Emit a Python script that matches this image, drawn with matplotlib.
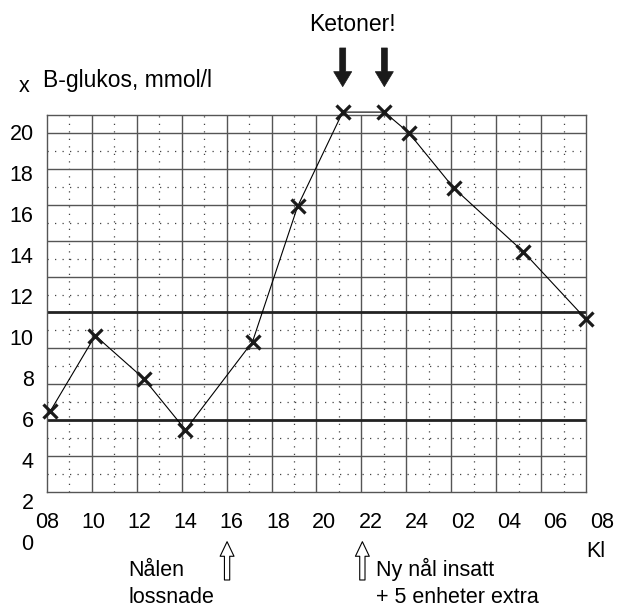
import matplotlib
matplotlib.use("Agg")
import matplotlib.pyplot as plt
import matplotlib.transforms as mtransforms

# readings: clock time in hours (night hours counted past 24) and B-glukos in mmol/l
times = [8.15, 10.1, 12.2, 14.0, 16.9, 18.85, 20.8, 22.6, 23.65, 25.6, 28.6, 31.32]
glucose = [6.5, 10.2, 8.1, 5.6, 9.9, 16.5, 21.1, 21.1, 20.1, 17.4, 14.3, 11.0]

hour_ticks = list(range(8, 33, 2))
hour_labels = ["08", "10", "12", "14", "16", "18", "20", "22", "24", "02", "04", "06", "08"]
glucose_ticks = list(range(0, 21, 2))

ketone_times = [20.8, 22.6]
needle_loose = 15.8
needle_new = 21.65

plt.rcParams["font.family"] = ["Liberation Sans", "DejaVu Sans"]
FS = 15.5

fig = plt.figure(figsize=(6.19, 6.08), dpi=100)
ax = fig.add_axes([0.0759, 0.1908, 0.8708, 0.6201])
ax.set_xlim(8.013, 31.32)
ax.set_ylim(2.57, 20.96)
ax.set_xticks([])
ax.set_yticks([])
for sp in ax.spines.values():
    sp.set_color("#555555")
    sp.set_linewidth(1.0)

# graph paper: 12 columns / 10.5 rows, dotted half lines
for k in range(1, 24):
    f = k / 24
    if k % 2 == 0:
        ax.plot([f, f], [0, 1], transform=ax.transAxes, color="#555555", lw=1.0, zorder=1)
    else:
        ax.plot([f, f], [0, 1], transform=ax.transAxes, color="#444444", lw=0.9,
                ls=(0, (1, 5)), zorder=1)
for k in range(1, 21):
    f = k / 21
    if k in (4, 10):
        ax.plot([0, 1], [f, f], transform=ax.transAxes, color="#222222", lw=2.0, zorder=2)
    elif k % 2 == 0:
        ax.plot([0, 1], [f, f], transform=ax.transAxes, color="#555555", lw=1.0, zorder=1)
    else:
        ax.plot([0, 1], [f, f], transform=ax.transAxes, color="#444444", lw=0.9,
                ls=(0, (1, 5)), zorder=1)

# glucose curve
ax.plot(times, glucose, color="black", lw=0.8, zorder=3, clip_on=False)
ax.plot(times, glucose, ls="none", marker="x", ms=9.5, mew=2.3, color="#1a1a1a",
        zorder=4, clip_on=False)

# tick labels drawn as text (some lie outside the frame)
xtrans = mtransforms.blended_transform_factory(ax.transData, ax.transAxes)
for h, lab in zip(hour_ticks, hour_labels):
    ax.text(h, -0.0796, lab, transform=xtrans, ha="center", va="center", fontsize=FS)
ytrans = mtransforms.blended_transform_factory(ax.transAxes, ax.transData)
for v in glucose_ticks:
    ax.text(-0.025, v, str(v), transform=ytrans, ha="right", va="center", fontsize=FS)

fig.text(1.0 - 33 / 619, 1 - 557 / 608, "Kl", fontsize=FS, ha="left", va="baseline")
fig.text(24 / 619, 1 - 92 / 608, "x", fontsize=FS, ha="center", va="baseline")
fig.text(43.3 / 619, 1 - 86.7 / 608, "B-glukos, mmol/l", fontsize=16.5, ha="left", va="baseline")
fig.text(352.5 / 619, 1 - 30.7 / 608, "Ketoner!", fontsize=16.5, ha="center", va="baseline")

# ketone arrows
for t in ketone_times:
    ax.annotate("", xy=(t, 1.0751), xytext=(t, 1.1777),
                xycoords=("data", "axes fraction"), textcoords=("data", "axes fraction"),
                annotation_clip=False,
                arrowprops=dict(arrowstyle="simple,head_length=10.8,head_width=13,tail_width=4.3",
                                mutation_scale=1, fc="#1a1a1a", ec="#1a1a1a", lw=0.5,
                                shrinkA=0, shrinkB=0))

# needle events
for t in (needle_loose, needle_new):
    ax.annotate("", xy=(t, -0.1318), xytext=(t, -0.2334),
                xycoords=("data", "axes fraction"), textcoords=("data", "axes fraction"),
                annotation_clip=False,
                arrowprops=dict(arrowstyle="simple,head_length=10.5,head_width=10,tail_width=3.8",
                                mutation_scale=1, fc="white", ec="black", lw=0.8,
                                shrinkA=0, shrinkB=0))

fig.text(128 / 619, 1 - 576 / 608, "Nålen", fontsize=FS, ha="left", va="baseline")
fig.text(128 / 619, 1 - 603 / 608, "lossnade", fontsize=FS, ha="left", va="baseline")
fig.text(376 / 619, 1 - 576 / 608, "Ny nål insatt", fontsize=FS, ha="left", va="baseline")
fig.text(376 / 619, 1 - 603 / 608, "+ 5 enheter extra", fontsize=FS, ha="left", va="baseline")

fig.savefig("out.png", dpi=100)
